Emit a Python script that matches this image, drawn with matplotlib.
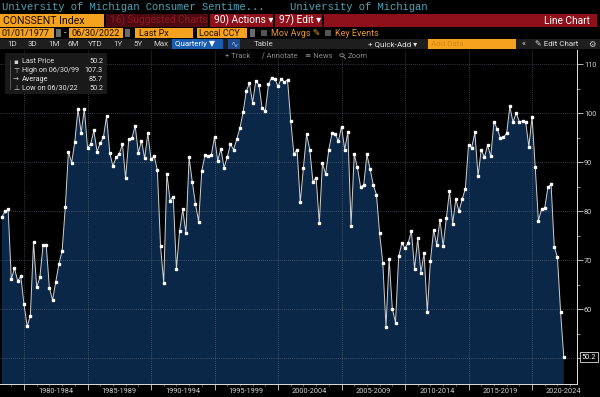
import numpy as np
import pandas as pd
import matplotlib
matplotlib.use('Agg')
import matplotlib.pyplot as plt
from matplotlib.patches import Rectangle, Circle
from matplotlib.transforms import blended_transform_factory

# University of Michigan consumer sentiment, quarterly (last value of quarter)
first_quarter = '1978Q1'
sentiment = [
    78.8, 80.0, 80.4, 66.1,   68.4, 65.8, 66.7, 61.0,   56.5, 58.7, 73.7, 64.5,
    66.5, 73.1, 73.1, 64.3,   61.9, 65.6, 69.3, 71.9,   80.8, 92.2, 89.9, 94.2,
    100.9, 96.0, 100.9, 93.0, 93.7, 96.5, 92.2, 93.9,   95.1, 99.4, 92.0, 89.2,
    91.0, 91.7, 93.7, 86.7,   94.7, 94.9, 97.5, 92.0,   94.4, 90.8, 95.9, 90.6,
    91.3, 88.4, 72.9, 65.4,   87.7, 82.2, 83.0, 68.2,   76.0, 80.4, 75.5, 91.0,
    86.0, 81.5, 77.9, 88.3,   91.5, 91.2, 91.5, 95.2,   90.3, 92.8, 88.9, 91.0,
    93.7, 92.6, 94.7, 97.0,   100.2, 104.5, 106.1, 102.2, 106.6, 105.8, 101.0, 100.5,
    105.9, 107.3, 107.0, 105.5, 107.1, 106.4, 106.8, 98.5, 91.7, 92.6, 81.8, 88.9,
    95.7, 92.6, 86.0, 86.9,   77.6, 89.8, 87.6, 92.6,   95.9, 95.8, 94.3, 97.3,
    92.6, 96.2, 77.0, 91.6,   89.0, 85.0, 85.4, 91.6,   88.6, 85.4, 83.4, 75.5,
    69.5, 56.4, 70.3, 60.1,   57.3, 70.8, 73.5, 72.5,   73.6, 76.0, 68.2, 74.5,
    67.5, 71.5, 59.4, 69.9,   76.2, 73.2, 78.3, 72.9,   78.6, 84.1, 77.5, 82.5,
    80.0, 82.5, 84.6, 93.6,   93.0, 96.1, 87.2, 92.6,   91.0, 93.5, 91.2, 98.2,
    96.9, 95.0, 95.1, 95.9,   101.4, 98.2, 100.1, 98.3, 98.4, 98.2, 93.2, 99.3,
    89.1, 78.1, 80.4, 80.7,   84.9, 85.5, 72.8, 70.6,   59.4, 50.2,
]
period_starts = [1980, 1985, 1990, 1995, 2000, 2005, 2010, 2015, 2020]
period_labels = ['1980-1984', '1985-1989', '1990-1994', '1995-1999', '2000-2004',
                 '2005-2009', '2010-2014', '2015-2019', '2020-2024']
ytick_vals = [50, 60, 70, 80, 90, 100, 110]

legend_names = ['Last Price', 'High on 06/30/99', 'Average', 'Low on 06/30/22']
legend_values = ['50.2', '107.3', '85.7', '50.2']
legend_icons = ['\u25aa', '\u22a4', '\u2192', '\u22a5']

last_value = '50.2'

# quarter-end positions as decimal years
quarters = pd.period_range(first_quarter, periods=len(sentiment), freq='Q')
xs = np.array([q.year + q.quarter / 4.0 for q in quarters])
ys = np.array(sentiment)

W, H = 600, 397
fig = plt.figure(figsize=(W / 100, H / 100), dpi=100, facecolor='black')

NARROW = ['Roboto', 'DejaVu Sans']
MONO = ['Liberation Mono', 'DejaVu Sans Mono']


def fx(x):
    return x / W


def fy(y):
    return 1 - y / H


def box(x0, y0, x1, y1, color, alpha=1.0):
    fig.add_artist(Rectangle((fx(x0), fy(y1)), (x1 - x0) / W, (y1 - y0) / H,
                             transform=fig.transFigure, facecolor=color,
                             edgecolor='none', alpha=alpha))


def label(x, y, s, color, size=7.5, ha='left', family=NARROW, **kw):
    fig.text(fx(x), fy(y), s, color=color, fontsize=size, ha=ha, va='center',
             family=family, **kw)


# ---- chart ----
ax = fig.add_axes([0, fy(384), 577 / W, (384 - 50) / H])
ax.set_facecolor('black')
ax.fill_between(xs, ys, 0, color='#0b2747', lw=0, zorder=1)
ax.plot(xs, ys, color='#d0d0d0', lw=0.7, marker='s', markersize=1.7,
        markerfacecolor='white', markeredgecolor='white', zorder=3)
ax.set_xlim(1978.11, 2023.54)
ax.set_ylim(44.76, 112.92)

for v in ytick_vals:
    ax.axhline(v, color='#7a8796', lw=0.6, ls=(0, (1, 1.5)), alpha=0.6, zorder=2)
for s in period_starts:
    ax.axvline(s, color='#7a8796', lw=0.6, ls=(0, (1, 1.5)), alpha=0.6, zorder=2)

ax.yaxis.tick_right()
ax.set_yticks(ytick_vals)
ax.set_yticklabels(['' if v == 50 else str(v) for v in ytick_vals])
ax.set_yticks(np.arange(55, 111, 10), minor=True)
ax.tick_params(axis='y', which='major', colors='#d0d0d0', length=4, width=0.6,
               labelsize=5.3, pad=1)
ax.tick_params(axis='y', which='minor', colors='#d0d0d0', length=2, width=0.5)

ax.set_xticks(period_starts)
ax.set_xticklabels([])
ax.set_xticks(np.arange(1979, 2024), minor=True)
ax.tick_params(axis='x', which='major', colors='#d0d0d0', length=4, width=0.6)
ax.tick_params(axis='x', which='minor', colors='#909090', length=1.5, width=0.5)
tr = blended_transform_factory(ax.transData, ax.transAxes)
for s, lab in zip(period_starts, period_labels):
    ax.text(s + 2.5, -0.022, lab, transform=tr, ha='center', va='center',
            color='#d0d0d0', fontsize=5.3, family=NARROW, clip_on=False)

for side in ['top', 'left']:
    ax.spines[side].set_visible(False)
for side in ['right', 'bottom']:
    ax.spines[side].set_color('#e0e0e0')
    ax.spines[side].set_linewidth(0.7)

for t in ax.get_yticklabels():
    t.set_family(NARROW)

ax.text(1.008, sentiment[-1], last_value,
        transform=blended_transform_factory(ax.transAxes, ax.transData),
        ha='left', va='center', color='white', fontsize=5.3, family=NARROW, clip_on=False,
        bbox=dict(boxstyle='square,pad=0.2', fc='black', ec='#e0e0e0', lw=0.6))

# ---- header rows ----
label(2, 6.5, 'University of Michigan Consumer Sentime...', '#4aa6b8', size=7.6, family=MONO)
label(290, 6.5, 'University of Michigan', '#4aa6b8', size=7.6, family=MONO)

box(0, 14, 104, 27, '#f5a21e')
label(3, 20.5, 'CONSSENT Index', '#1a0c00', size=7.6)
box(106, 14, 208, 27, '#4e0a10')
label(110, 20.5, '16) Suggested Charts', '#8a1822', size=7.3)
box(210, 14, 273, 27, '#8e101b')
label(214, 20.5, '90) Actions \u25be', 'white', size=7.3)
box(275, 14, 322, 27, '#8e101b')
label(279, 20.5, '97) Edit \u25be', 'white', size=7.3)
box(324, 14, 597, 27, '#8e101b')
label(590, 20.5, 'Line Chart', 'white', size=7.3, ha='right')

box(0, 28, 54, 38, '#f5a21e')
label(2, 33, '01/01/1977', '#1a0c00', size=6.5)
box(56, 29, 61, 37, '#6a6a6a')
label(64, 33, '-', '#d0d0d0', size=6.5)
box(69, 28, 123, 38, '#f5a21e')
label(71, 33, '06/30/2022', '#1a0c00', size=6.5)
box(125, 29, 130, 37, '#6a6a6a')
box(135, 28, 193, 38, '#f5a21e')
label(139, 33, 'Last Px', '#1a0c00', size=6.5)
box(197, 28, 247, 38, '#f5a21e')
label(199, 33, 'Local CCY', '#1a0c00', size=6.5)
box(250, 29, 255, 37, '#6a6a6a')
box(261, 30, 267, 36, '#555555')
label(271, 33, 'Mov Avgs \u270e', '#e8982a', size=6.5, family=['Roboto', 'DejaVu Sans'])
box(325, 30, 331, 36, '#555555')
label(335, 33, 'Key Events', '#e8982a', size=6.5)

box(0, 39, 600, 49, '#1e1e1e')
for x, s in zip([7, 28, 48, 67, 88, 113, 133, 153],
                ['1D', '3D', '1M', '6M', 'YTD', '1Y', '5Y', 'Max']):
    label(x, 44, s, '#cfcfcf', size=5.8)
box(172, 39, 223, 49, '#1a5cb0')
label(175, 44, 'Quarterly \u25bc', 'white', size=5.8)
box(228, 39, 240, 49, '#1d4c8e')
label(234, 44, '\u223f', '#8fb8f0', size=6.5, ha='center', family=['DejaVu Sans'])
label(254, 44, 'Table', '#cfcfcf', size=5.8)
label(368, 44, '+ Quick-Add \u25be', '#e0e0e0', size=5.8)
box(428, 39, 516, 49, '#f5a21e')
label(431, 44, 'Add Data', '#d6891a', size=5.8)
label(522, 44, '\u00ab', '#cfcfcf', size=6)
label(535, 44, '\u270e Edit Chart', '#e0e0e0', size=5.8)
label(592, 44, '\u2699', '#cfcfcf', size=6, ha='center', family=['DejaVu Sans'])

label(225, 56, '+ Track', '#8a8a8a', size=5.5)
label(262, 56, '\u2215 Annotate', '#8a8a8a', size=5.5)
label(305, 56, '\u2261 News', '#8a8a8a', size=5.5)
# magnifier icon drawn as a shape (no installed font has the glyph)
fig.add_artist(Circle((fx(342), fy(55.2)), 2.2 / W, transform=fig.transFigure,
                      facecolor='none', edgecolor='#8a8a8a', lw=0.6))
fig.add_artist(plt.Line2D([fx(343.6), fx(345.5)], [fy(56.8), fy(58.7)],
                          transform=fig.transFigure, color='#8a8a8a', lw=0.7))
label(348, 56, 'Zoom', '#8a8a8a', size=5.5)

# ---- legend box ----
box(5, 53, 107, 94, '#1c1c1c', alpha=0.92)
fig.add_artist(plt.Line2D([fx(10), fx(10)], [fy(60), fy(89)], transform=fig.transFigure,
                          color='#6a6a6a', lw=0.5))
for i, (ic, nm, val) in enumerate(zip(legend_icons, legend_names, legend_values)):
    yy = 61.7 + i * 8.8
    label(16, yy, ic, '#cfcfcf', size=5, ha='center', family=['DejaVu Sans'])
    label(22, yy, nm, '#e6e6e6', size=5.2)
    label(103, yy, val, '#e6e6e6', size=5.2, ha='right')

fig.savefig('out.png', dpi=100, facecolor='black')
